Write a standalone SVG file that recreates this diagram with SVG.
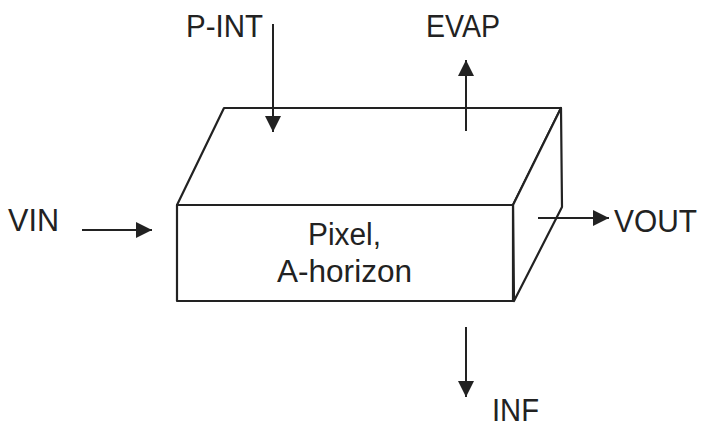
<svg xmlns="http://www.w3.org/2000/svg" width="705" height="428" viewBox="0 0 705 428">
<defs>
<style>
.face{fill:#fff;stroke:#222;stroke-width:2.2;stroke-linejoin:round}
.arr{stroke:#222;stroke-width:2;fill:none;marker-end:url(#ah)}
.lbl{font-family:"Liberation Sans",Arial,sans-serif;font-size:31px;fill:#222}
</style>
<marker id="ah" viewBox="0 0 16 16" refX="16" refY="8" markerWidth="16" markerHeight="16" markerUnits="userSpaceOnUse" orient="auto">
<path d="M0,0 L16,8 L0,16 z" fill="#222"/>
</marker>
</defs>
<rect width="705" height="428" fill="#fff"/>
<g id="box">
<polygon class="face" points="177,205 224,108 561,108 513,205"/>
<polygon class="face" points="513,205 561,108 562,207 514,301"/>
<rect class="face" x="177" y="205" width="336" height="96"/>
<text class="lbl" x="308" y="245" textLength="73" lengthAdjust="spacingAndGlyphs">Pixel,</text>
<text class="lbl" x="277" y="282" textLength="135" lengthAdjust="spacingAndGlyphs">A-horizon</text>
</g>
<g id="connectors">
<line class="arr" x1="273" y1="24" x2="273" y2="132"/>
<line class="arr" x1="466" y1="131" x2="466" y2="60"/>
<line class="arr" x1="466" y1="327" x2="466" y2="397"/>
<line class="arr" x1="82" y1="230" x2="152" y2="230"/>
<line class="arr" x1="538" y1="218" x2="609" y2="218"/>
</g>
<g id="p-int"><text class="lbl" x="186" y="37" textLength="77" lengthAdjust="spacingAndGlyphs">P-INT</text></g>
<g id="evap"><text class="lbl" x="426" y="37" textLength="74" lengthAdjust="spacingAndGlyphs">EVAP</text></g>
<g id="vin"><text class="lbl" x="8" y="231" textLength="51" lengthAdjust="spacingAndGlyphs">VIN</text></g>
<g id="vout"><text class="lbl" x="614" y="232" textLength="83" lengthAdjust="spacingAndGlyphs">VOUT</text></g>
<g id="inf"><text class="lbl" x="492" y="421" font-size="30" textLength="47" lengthAdjust="spacingAndGlyphs">INF</text></g>
</svg>
